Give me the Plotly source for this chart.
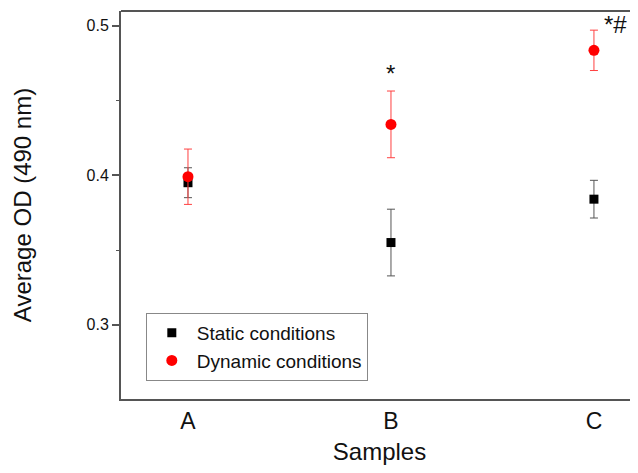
import plotly.graph_objects as go

samples = ["A", "B", "C"]
static_mean = [0.395, 0.355, 0.384]
static_err = [0.010, 0.0223, 0.0126]
dynamic_mean = [0.399, 0.434, 0.4835]
dynamic_err = [0.0185, 0.0223, 0.0135]
sig_labels = ["", "*", "*#"]

FONT = "Liberation Sans, Arial, sans-serif"
TXT = "#111111"
fig = go.Figure()

fig.add_trace(go.Scatter(
    x=samples, y=static_mean, mode="markers", name="Static conditions",
    marker=dict(symbol="square", size=9, color="black"),
    error_y=dict(type="data", array=static_err, color="#555555", thickness=1, width=4),
))
fig.add_trace(go.Scatter(
    x=samples, y=dynamic_mean, mode="markers", name="Dynamic conditions",
    marker=dict(symbol="circle", size=11, color="#ff0000"),
    error_y=dict(type="data", array=dynamic_err, color="#ff4040", thickness=1, width=4),
))

for i, lab in enumerate(sig_labels):
    if not lab:
        continue
    top = dynamic_mean[i] + dynamic_err[i]
    fig.add_annotation(
        x=i, y=top, text=lab, showarrow=False, xanchor="center", yanchor="bottom",
        xshift=(0 if len(lab) == 1 else 22), yshift=(2 if len(lab) == 1 else -10),
        font=dict(family=FONT, size=24, color=TXT),
    )

fig.add_shape(type="line", xref="paper", yref="paper", x0=0, x1=1, y0=1, y1=1,
              line=dict(color="#555555", width=2))

fig.update_layout(
    width=630, height=457,
    margin=dict(l=113, r=0, t=3, b=66),
    paper_bgcolor="white", plot_bgcolor="white",
    font=dict(family=FONT, color=TXT),
    showlegend=True,
    legend=dict(
        x=0.048, y=0.222, xanchor="left", yanchor="top",
        bordercolor="#888888", borderwidth=1, bgcolor="white",
        font=dict(family=FONT, size=19, color=TXT),
        tracegroupgap=0, itemwidth=40,
    ),
    xaxis=dict(
        type="category", range=[-0.330, 2.217],
        showline=True, linecolor="#555555", linewidth=2,
        ticks="", showgrid=False, zeroline=False,
        tickfont=dict(family=FONT, size=23, color=TXT),
        title=dict(text="Samples", font=dict(family=FONT, size=24, color=TXT), standoff=16),
    ),
    yaxis=dict(
        range=[0.2504, 0.5098],
        tickvals=[0.3, 0.4, 0.5], ticktext=["0.3", "0.4", "0.5"],
        showline=True, linecolor="#555555", linewidth=2,
        ticks="outside", ticklen=7, tickwidth=1.5, tickcolor="#555555",
        minor=dict(tickvals=[0.35, 0.45], ticks="outside", ticklen=3, tickcolor="#555555", tickwidth=1),
        showgrid=False, zeroline=False,
        tickfont=dict(family=FONT, size=16, color=TXT),
        title=dict(text="Average OD (490 nm)", font=dict(family=FONT, size=24, color=TXT), standoff=48),
    ),
)

fig.write_html("out.html")
